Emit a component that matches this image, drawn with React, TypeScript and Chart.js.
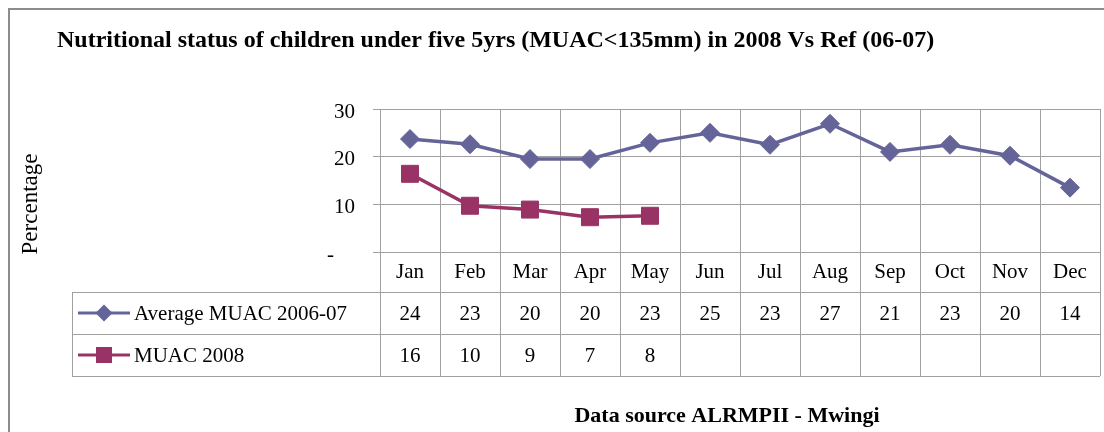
import React, { useEffect, useRef } from 'react';
import { Chart, registerables } from 'chart.js';

Chart.register(...registerables);

const months = ['Jan', 'Feb', 'Mar', 'Apr', 'May', 'Jun', 'Jul', 'Aug', 'Sep', 'Oct', 'Nov', 'Dec'];
const avgLabel = 'Average MUAC 2006-07';
const avgValues = [23.7, 22.6, 19.5, 19.5, 22.9, 25.0, 22.5, 26.9, 21.0, 22.5, 20.2, 13.5];
const muacLabel = 'MUAC 2008';
const muacValues: (number | null)[] = [16.4, 9.7, 8.9, 7.3, 7.6, null, null, null, null, null, null, null];
const yTickValues = [0, 10, 20, 30];
const yTickLabels = ['-', '10', '20', '30'];
const titleText = 'Nutritional status of children under five 5yrs (MUAC<135mm) in 2008 Vs Ref (06-07)';
const yTitleText = 'Percentage';
const sourceText = 'Data source ALRMPII - Mwingi';

const BLUE = '#646499';
const MAROON = '#993366';
const GRID = '#a0a0a0';
const FONT = '"Liberation Serif", "Times New Roman", serif';

function drawDiamond(ctx: CanvasRenderingContext2D, x: number, y: number, r: number, color: string) {
  ctx.beginPath();
  ctx.moveTo(x, y - r);
  ctx.lineTo(x + r, y);
  ctx.lineTo(x, y + r);
  ctx.lineTo(x - r, y);
  ctx.closePath();
  ctx.fillStyle = color;
  ctx.fill();
}

function drawSquare(ctx: CanvasRenderingContext2D, x: number, y: number, half: number, color: string) {
  ctx.fillStyle = color;
  ctx.fillRect(x - half, y - half, half * 2, half * 2);
}

const decorPlugin = {
  id: 'decor',
  beforeDraw(chart: any) {
    const ctx: CanvasRenderingContext2D = chart.ctx;
    ctx.save();
    ctx.fillStyle = '#ffffff';
    ctx.fillRect(0, 0, chart.width, chart.height);
    ctx.strokeStyle = '#8c8c8c';
    ctx.lineWidth = 2;
    ctx.strokeRect(9, 9, chart.width + 20, chart.height + 20);
    ctx.restore();
  },
  afterDraw(chart: any) {
    const ctx: CanvasRenderingContext2D = chart.ctx;
    const area = chart.chartArea;
    const x = chart.scales.x;
    const n = months.length;
    const colW = (x.right - x.left) / n;
    const rowH = 42;
    const labelTop = area.bottom;
    const r1 = x.bottom;
    const r2 = r1 + rowH;
    const r3 = r2 + rowH;
    const legendLeft = 72;
    const px = (v: number) => Math.round(v) + 0.5;

    ctx.save();
    ctx.strokeStyle = GRID;
    ctx.lineWidth = 1;
    ctx.beginPath();
    for (let i = 0; i <= n; i++) {
      const bx = px(x.left + i * colW);
      ctx.moveTo(bx, labelTop);
      ctx.lineTo(bx, r3);
    }
    [r1, r2, r3].forEach((ry) => {
      ctx.moveTo(legendLeft, px(ry));
      ctx.lineTo(x.right, px(ry));
    });
    ctx.moveTo(px(legendLeft), r1);
    ctx.lineTo(px(legendLeft), r3);
    ctx.stroke();

    const rows = [
      { label: avgLabel, values: avgValues, color: BLUE, kind: 'diamond', cy: (r1 + r2) / 2 },
      { label: muacLabel, values: muacValues, color: MAROON, kind: 'square', cy: (r2 + r3) / 2 },
    ];
    rows.forEach((row) => {
      ctx.strokeStyle = row.color;
      ctx.lineWidth = 3;
      ctx.beginPath();
      ctx.moveTo(legendLeft + 6, row.cy);
      ctx.lineTo(legendLeft + 58, row.cy);
      ctx.stroke();
      if (row.kind === 'diamond') drawDiamond(ctx, legendLeft + 32, row.cy, 8.5, row.color);
      else drawSquare(ctx, legendLeft + 32, row.cy, 8, row.color);

      ctx.fillStyle = '#000';
      ctx.font = `21px ${FONT}`;
      ctx.textBaseline = 'middle';
      ctx.textAlign = 'left';
      ctx.fillText(row.label, legendLeft + 62, row.cy + 1);

      ctx.textAlign = 'center';
      row.values.forEach((v, i) => {
        if (v === null || v === undefined) return;
        ctx.fillText(String(Math.round(v as number)), x.getPixelForValue(i), row.cy + 1);
      });
    });

    ctx.fillStyle = '#000';
    ctx.textAlign = 'left';
    ctx.textBaseline = 'alphabetic';
    ctx.font = `bold 24px ${FONT}`;
    ctx.fillText(titleText, 57, 47);

    ctx.save();
    ctx.translate(31, 204);
    ctx.rotate(-Math.PI / 2);
    ctx.textAlign = 'center';
    ctx.textBaseline = 'middle';
    ctx.font = `23px ${FONT}`;
    ctx.fillText(yTitleText, 0, 0);
    ctx.restore();

    ctx.textAlign = 'center';
    ctx.textBaseline = 'middle';
    ctx.font = `bold 22px ${FONT}`;
    ctx.fillText(sourceText, 727, 416);
    ctx.restore();
  },
};

export default function App() {
  const ref = useRef<HTMLCanvasElement | null>(null);

  useEffect(() => {
    if (!ref.current) return;
    const chart = new Chart(ref.current, {
      type: 'line',
      data: {
        labels: months,
        datasets: [
          {
            label: avgLabel,
            data: avgValues,
            borderColor: BLUE,
            backgroundColor: BLUE,
            borderWidth: 3.5,
            pointStyle: 'rectRot',
            pointRadius: 9.5,
            pointBorderWidth: 1,
            pointBackgroundColor: BLUE,
            pointBorderColor: BLUE,
            tension: 0,
          },
          {
            label: muacLabel,
            data: muacValues,
            borderColor: MAROON,
            backgroundColor: MAROON,
            borderWidth: 3.5,
            pointStyle: 'rect',
            pointRadius: 12,
            pointBorderWidth: 1,
            pointBackgroundColor: MAROON,
            pointBorderColor: MAROON,
            tension: 0,
            spanGaps: false,
          },
        ],
      },
      options: {
        animation: false,
        responsive: true,
        maintainAspectRatio: false,
        devicePixelRatio: 1,
        layout: { autoPadding: false, padding: { top: 109, right: 4, bottom: 140, left: 0 } },
        plugins: {
          legend: { display: false },
          title: { display: false },
          tooltip: { enabled: false },
        },
        scales: {
          x: {
            type: 'category',
            offset: true,
            afterFit: (s: any) => {
              s.height = 40;
              s.paddingLeft = 0;
              s.paddingRight = 0;
            },
            grid: { offset: true, color: GRID, drawTicks: false },
            border: { color: GRID },
            ticks: {
              padding: 8,
              color: '#000',
              autoSkip: false,
              maxRotation: 0,
              font: { family: FONT, size: 21 },
            },
          },
          y: {
            min: 0,
            max: 30,
            afterFit: (s: any) => {
              s.width = 380;
              s.paddingTop = 0;
              s.paddingBottom = 0;
            },
            afterBuildTicks: (s: any) => {
              s.ticks = yTickValues.map((v) => ({ value: v }));
            },
            grid: { color: GRID, tickLength: 7 },
            border: { color: GRID },
            ticks: {
              padding: 18,
              labelOffset: 3,
              color: '#000',
              font: { family: FONT, size: 21 },
              callback: (v: any) => {
                const k = yTickValues.indexOf(Number(v));
                const lbl = k >= 0 ? yTickLabels[k] : String(v);
                return lbl === '-' ? lbl + '    ' : lbl;
              },
            },
          },
        },
      },
      plugins: [decorPlugin],
    });
    return () => chart.destroy();
  }, []);

  return (
    <div style={{ position: 'absolute', left: 0, top: 0, width: 1104, height: 432, overflow: 'hidden' }}>
      <canvas ref={ref} style={{ display: 'block' }} />
    </div>
  );
}
